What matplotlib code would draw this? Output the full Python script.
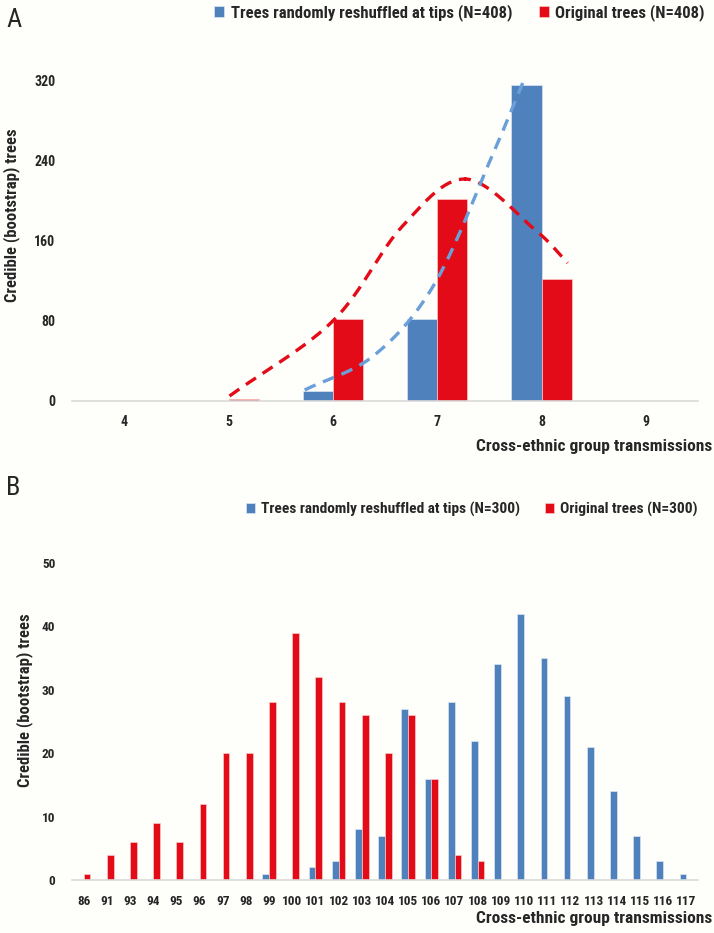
import numpy as np
import matplotlib
matplotlib.use("Agg")
import matplotlib.pyplot as plt
from matplotlib import font_manager

# pick a narrow bold-looking face close to the Calibri of the original
names = {f.name for f in font_manager.fontManager.ttflist}
narrow = "DejaVu Sans"
for cand in ["Liberation Sans Narrow", "DejaVu Sans Condensed", "Roboto Condensed", "Lato"]:
    if cand in names:
        narrow = cand
        break
plt.rcParams['font.family'] = [narrow, 'DejaVu Sans']

BLUE = "#4F81BD"
RED = "#E30B17"
BG = "#FEFEFB"
TXT = "#262626"

# ---- panel A data
cats_a = [4, 5, 6, 7, 8, 9]
shuffled_a = [0, 0, 10, 82, 316, 0]
original_a = [0, 2, 82, 202, 122, 0]
# dashed trend curves (x in category units, y in trees)
red_curve_x = [5.01, 6.0, 6.66, 7.27, 7.94, 8.25]
red_curve_y = [5, 80, 174, 222, 171, 138]
blue_curve_x = [5.73, 6.40, 6.98, 7.53, 7.82]
blue_curve_y = [11, 46, 118, 246, 318]

# ---- panel B data
cats_b = [86, 91, 93, 94, 95, 96, 97, 98, 99, 100, 101, 102, 103, 104, 105, 106,
          107, 108, 109, 110, 111, 112, 113, 114, 115, 116, 117]
shuffled_b = [0, 0, 0, 0, 0, 0, 0, 0, 1, 0, 2, 3, 8, 7, 27, 16,
              28, 22, 34, 42, 35, 29, 21, 14, 7, 3, 1]
original_b = [1, 4, 6, 9, 6, 12, 20, 20, 28, 39, 32, 28, 26, 20, 26, 16,
              4, 3, 0, 0, 0, 0, 0, 0, 0, 0, 0]


def catmull(xs, ys, n=40):
    pts = np.column_stack([xs, ys]).astype(float)
    P = np.vstack([2 * pts[0] - pts[1], pts, 2 * pts[-1] - pts[-2]])
    t = np.linspace(0, 1, n)[:, None]
    out = []
    for i in range(1, len(P) - 2):
        p0, p1, p2, p3 = P[i - 1], P[i], P[i + 1], P[i + 2]
        seg = 0.5 * (2 * p1 + (-p0 + p2) * t + (2 * p0 - 5 * p1 + 4 * p2 - p3) * t ** 2
                     + (-p0 + 3 * p1 - 3 * p2 + p3) * t ** 3)
        out.append(seg)
    out = np.vstack(out)
    return out[:, 0], out[:, 1]


def style(ax):
    ax.set_facecolor(BG)
    for s in ["top", "right", "left"]:
        ax.spines[s].set_visible(False)
    ax.spines["bottom"].set_color("#D9D9D9")
    ax.spines["bottom"].set_linewidth(1.2)
    ax.tick_params(length=0, colors=TXT)


fig = plt.figure(figsize=(7.14, 9.33), dpi=100, facecolor=BG)
W, H = 714, 933
w = 0.29
leg_kw = dict(loc="upper right", bbox_transform=fig.transFigure, ncol=2, frameon=False,
              handlelength=0.6, handleheight=0.6, handletextpad=0.4, columnspacing=1.6,
              borderaxespad=0, borderpad=0, labelcolor=TXT)

# ---------------- A
axA = fig.add_axes([72 / W, (H - 401) / H, 626 / W, 340 / H])
style(axA)
xa = np.array(cats_a, dtype=float)
axA.bar(xa - w / 2, shuffled_a, w, color=BLUE, edgecolor="#DCE6F2", linewidth=0.5,
        label="Trees randomly reshuffled at tips (N=408)")
axA.bar(xa + w / 2, original_a, w, color=RED, edgecolor="#F8C8C8", linewidth=0.5,
        label="Original trees (N=408)")
rx, ry = catmull(red_curve_x, red_curve_y)
axA.plot(rx, ry, color=RED, lw=2.4, ls=(0, (3.6, 2.4)), clip_on=False)
bx, by = catmull(blue_curve_x, blue_curve_y)
axA.plot(bx, by, color="#6A9FDA", lw=2.4, ls=(0, (3.6, 2.4)), clip_on=False)
axA.set_xlim(3.5, 9.5)
axA.set_ylim(0, 340)
axA.set_xticks(cats_a)
axA.set_yticks([0, 80, 160, 240, 320])
axA.tick_params(axis="x", pad=10)
axA.tick_params(axis="y", pad=12)
for lab in axA.get_xticklabels() + axA.get_yticklabels():
    lab.set_fontweight("bold")
    lab.set_fontsize(10)
axA.legend(bbox_to_anchor=(705 / W, 1 - 4 / H), prop={"weight": "bold", "size": 12}, **leg_kw)

# ---------------- B
axB = fig.add_axes([72 / W, (H - 880) / H, 626 / W, 317 / H])
style(axB)
xb = np.arange(len(cats_b))
axB.bar(xb - w / 2, shuffled_b, w, color=BLUE, edgecolor="#DCE6F2", linewidth=0.5,
        label="Trees randomly reshuffled at tips (N=300)")
axB.bar(xb + w / 2, original_b, w, color=RED, edgecolor="#F8C8C8", linewidth=0.5,
        label="Original trees (N=300)")
axB.set_xlim(-0.5, len(cats_b) - 0.5)
axB.set_ylim(0, 50)
axB.set_xticks(xb)
axB.set_xticklabels([str(c) for c in cats_b])
axB.set_yticks([0, 10, 20, 30, 40, 50])
axB.tick_params(axis="x", pad=11)
axB.tick_params(axis="y", pad=12)
for lab in axB.get_xticklabels() + axB.get_yticklabels():
    lab.set_fontweight("bold")
    lab.set_fontsize(9.5)
axB.legend(bbox_to_anchor=(698 / W, 1 - 502 / H), prop={"weight": "bold", "size": 11.1}, **leg_kw)

# ---------------- texts
fig.text(6 / W, 1 - 20 / H, "A", fontsize=19, color=TXT, va="center", ha="left")
fig.text(6 / W, 1 - 488 / H, "B", fontsize=19, color=TXT, va="center", ha="left")
fig.text(12 / W, 1 - 215 / H, "Credible (bootstrap) trees", rotation=90, fontsize=12,
         fontweight="bold", color=TXT, ha="center", va="center")
fig.text(25 / W, 1 - 700 / H, "Credible (bootstrap) trees", rotation=90, fontsize=12,
         fontweight="bold", color=TXT, ha="center", va="center")
fig.text(712 / W, 1 - 447 / H, "Cross-ethnic group transmissions", fontsize=12.5,
         fontweight="bold", color=TXT, ha="right", va="center")
fig.text(712 / W, 1 - 919 / H, "Cross-ethnic group transmissions", fontsize=12.5,
         fontweight="bold", color=TXT, ha="right", va="center")

fig.savefig("out.png", dpi=100, facecolor=BG)
